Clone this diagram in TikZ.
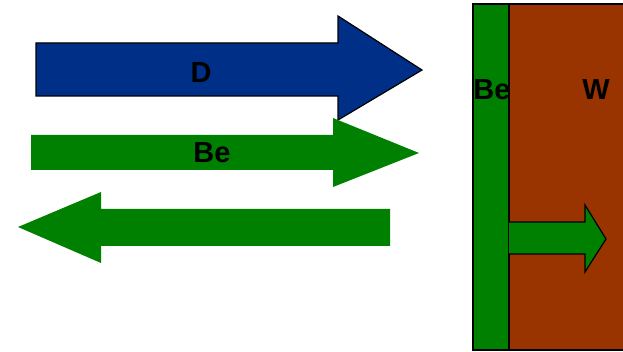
\documentclass[tikz,border=0pt]{standalone}
\usepackage{fontspec}
\setmainfont{Liberation Sans}
\definecolor{dblue}{RGB}{0,47,135}
\definecolor{begreen}{RGB}{0,128,0}
\definecolor{wbrown}{RGB}{153,51,0}
\tikzset{
  outlined/.style={draw=black, line width=1.2pt, line join=miter},
  label/.style={font=\bfseries\fontsize{29}{29}\selectfont, text=black, inner sep=0pt}
}
\begin{document}
\begin{tikzpicture}[x=1pt, y=-1pt]
  \useasboundingbox (0,0) rectangle (623,352);
  % incoming deuterium flux
  \fill[dblue, outlined] (36,43) -- (338,43) -- (338,16) -- (422,70) -- (338,120)
    -- (338,96) -- (36,96) -- cycle;
  \node[label] (d) at (201,73) {D};
  % beryllium flux towards the wall
  \fill[begreen] (31,135) -- (333,135) -- (333,118) -- (419,153) -- (333,187)
    -- (333,170) -- (31,170) -- cycle;
  \node[label] (be1) at (212,153) {Be};
  % eroded beryllium going back
  \fill[begreen] (390,209) -- (101,209) -- (101,192) -- (18,227) -- (101,263)
    -- (101,246) -- (390,246) -- cycle;
  % tungsten wall with beryllium layer
  \fill[wbrown, outlined] (509,4) rectangle (630,350);
  \fill[begreen, outlined] (473,4) rectangle (509,350);
  \node[label] (be2) at (492,90) {Be};
  \node[label] (w) at (596,90) {W};
  % diffusion into the tungsten
  \fill[begreen, outlined] (509,222) -- (585,222) -- (585,205) -- (606,239)
    -- (585,272) -- (585,254) -- (509,254);
\end{tikzpicture}
\end{document}
